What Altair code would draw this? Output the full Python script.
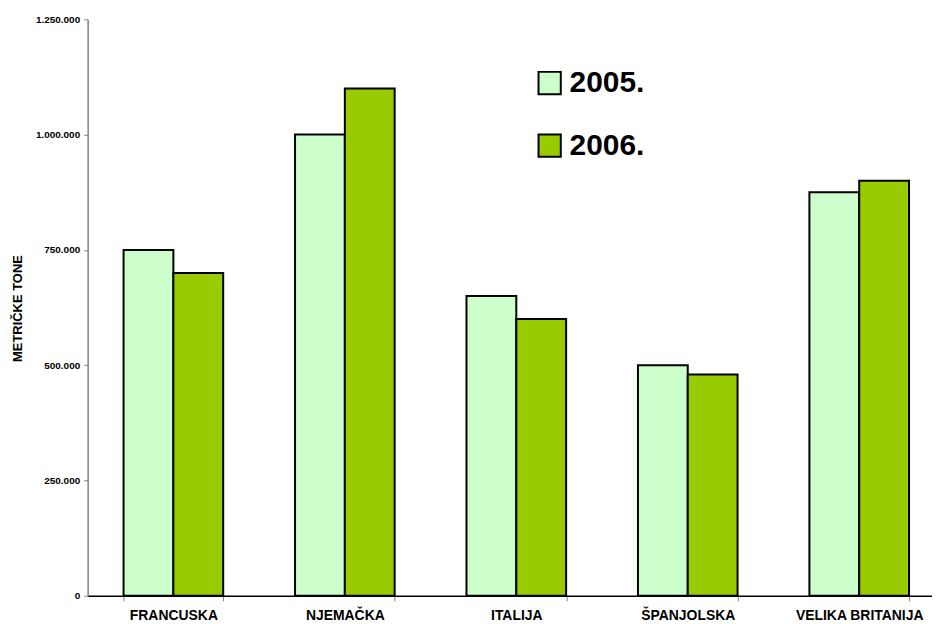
import altair as alt
import pandas as pd

countries = ["FRANCUSKA", "NJEMAČKA", "ITALIJA", "ŠPANJOLSKA", "VELIKA BRITANIJA"]
years = ["2005.", "2006."]
v2005 = [750000, 1000000, 650000, 500000, 875000]
v2006 = [700000, 1100000, 600000, 480000, 900000]
colors = ["#CCFFCC", "#99CC00"]

rows = []
for c, a, b in zip(countries, v2005, v2006):
    rows.append({"country": c, "year": years[0], "value": a})
    rows.append({"country": c, "year": years[1], "value": b})
df = pd.DataFrame(rows)

lab = "replace(replace(format(datum.value, ','), ',', '.'), ',', '.')"

chart = alt.Chart(df).mark_bar(stroke="black", strokeWidth=2).encode(
    x=alt.X("country:N", sort=countries, title=None,
            scale=alt.Scale(paddingInner=0.419, paddingOuter=0.2095, range=[0, 861]),
            axis=alt.Axis(labelAngle=0, labelFont="Liberation Sans", labelFontSize=14,
                          labelFontWeight="bold", labelColor="black", labelPadding=8,
                          tickBand="extent", tickSize=5, tickColor="#808080",
                          domainColor="black", domainWidth=1.5)),
    xOffset=alt.XOffset("year:N", sort=years),
    y=alt.Y("value:Q", title="METRIČKE TONE",
            scale=alt.Scale(domain=[0, 1250000], nice=False),
            axis=alt.Axis(values=[0, 250000, 500000, 750000, 1000000, 1250000],
                          labelExpr=lab, grid=False, labelFont="Liberation Sans",
                          labelFontSize=10, labelFontWeight="bold", labelColor="black",
                          tickSize=4, tickColor="#808080", domainColor="#808080",
                          domainWidth=1.5, labelPadding=4,
                          titleFont="Liberation Sans", titleFontSize=13,
                          titleFontWeight="bold", titleColor="black",
                          titleAngle=-90, titleX=-70, titleY=290,
                          titleAlign="center", titleBaseline="middle")),
    color=alt.Color("year:N", sort=years,
                    scale=alt.Scale(domain=years, range=colors),
                    legend=alt.Legend(title=None, orient="none", legendX=449, legendY=49,
                                      symbolType="square", symbolSize=500,
                                      symbolStrokeColor="black", symbolStrokeWidth=2,
                                      symbolOpacity=1,
                                      labelFont="Liberation Sans", labelFontSize=30,
                                      labelFontWeight="bold", labelColor="black",
                                      labelOffset=5, rowPadding=31)),
).properties(
    width=848, height=579,
    autosize=alt.AutoSizeParams(type="none"),
    padding={"left": 80, "top": 10, "right": 0, "bottom": 27},
).configure_view(stroke=None)

chart.save("out.html", embed_options={"renderer": "svg", "actions": False})
